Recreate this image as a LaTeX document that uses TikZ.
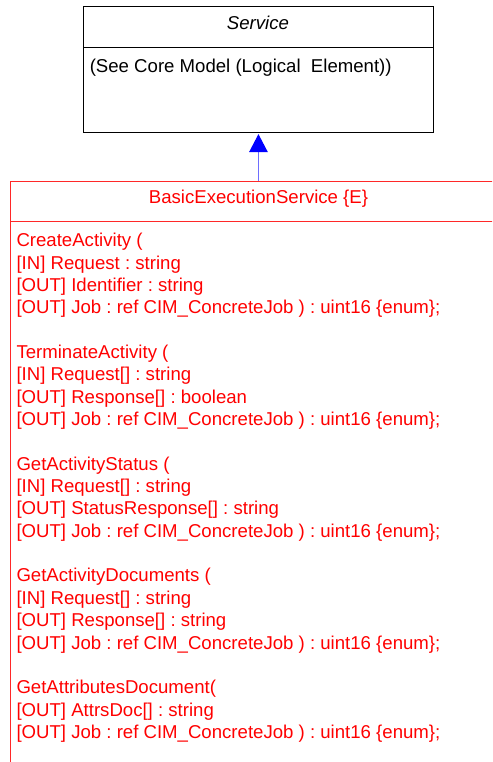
\documentclass[tikz,border=0pt]{standalone}
\usepackage{fontspec}
\setmainfont{Liberation Sans}
\usetikzlibrary{arrows.meta}
\definecolor{lineblue}{RGB}{110,110,255}
\definecolor{boxred}{RGB}{255,40,40}
\frenchspacing
\begin{document}
\frenchspacing
\begin{tikzpicture}[x=1pt,y=-1pt,
  txt/.style={inner sep=0pt, font=\fontsize{18.6}{22}\selectfont\frenchspacing},
  opline/.style={txt, anchor=base west, text=red},
  classbox/.style={draw, line width=0.9pt, inner sep=0pt, anchor=north west},
  gen/.style={line width=1.2pt, draw=lineblue, shorten >=1.5pt,
    -{Triangle[length=18pt,width=18.5pt,color=blue,fill=blue]}}]
\useasboundingbox (0,0) rectangle (492,762);
\clip (0,0) rectangle (492,762);
\fill[white] (0,0) rectangle (492,762);

% Service class
\node[classbox, draw=black, minimum width=349.4pt, minimum height=125.7pt] (svc) at (83.3,6) {};
\draw[black, line width=0.9pt] (svc.west |- 0,47.7) -- (svc.east |- 0,47.7);
\node[txt, anchor=base, font=\fontsize{18.6}{22}\selectfont\itshape] (svctitle) at (258,30) {Service};
\node[txt, anchor=base west] (svcnote) at (89.6,72.3) {(See Core Model (Logical\ \ Element))};

% BasicExecutionService class
\node[classbox, draw=boxred, minimum width=496pt, minimum height=700pt] (bes) at (10,180.7) {};
\draw[boxred, line width=0.9pt] (bes.west |- 0,221.7) -- (bes.east |- 0,221.7);
\node[txt, anchor=base, text=red] (bestitle) at (258.5,204) {BasicExecutionService \{E\}};

% generalization
\draw[gen] (bes.north) -- (svc.south);

% operations
\node[opline] (l0)  at (16.3,246.7) {CreateActivity (};
\node[opline] (l1)  at (16.3,269.05) {[IN] Request : string};
\node[opline] (l2)  at (16.3,291.4) {[OUT] Identifier : string};
\node[opline] (l3)  at (16.3,313.75) {[OUT] Job : ref CIM\_ConcreteJob ) : uint16 \{enum\};};
\node[opline] (l5)  at (16.3,358.45) {TerminateActivity (};
\node[opline] (l6)  at (16.3,380.8) {[IN] Request[] : string};
\node[opline] (l7)  at (16.3,403.15) {[OUT] Response[] : boolean};
\node[opline] (l8)  at (16.3,425.5) {[OUT] Job : ref CIM\_ConcreteJob ) : uint16 \{enum\};};
\node[opline] (l10) at (16.3,470.2) {GetActivityStatus (};
\node[opline] (l11) at (16.3,492.55) {[IN] Request[] : string};
\node[opline] (l12) at (16.3,514.9) {[OUT] StatusResponse[] : string};
\node[opline] (l13) at (16.3,537.25) {[OUT] Job : ref CIM\_ConcreteJob ) : uint16 \{enum\};};
\node[opline] (l15) at (16.3,581.95) {GetActivityDocuments (};
\node[opline] (l16) at (16.3,604.3) {[IN] Request[] : string};
\node[opline] (l17) at (16.3,626.65) {[OUT] Response[] : string};
\node[opline] (l18) at (16.3,649.0) {[OUT] Job : ref CIM\_ConcreteJob ) : uint16 \{enum\};};
\node[opline] (l20) at (16.3,693.7) {GetAttributesDocument(};
\node[opline] (l21) at (16.3,716.05) {[OUT] AttrsDoc[] : string};
\node[opline] (l22) at (16.3,738.4) {[OUT] Job : ref CIM\_ConcreteJob ) : uint16 \{enum\};};
\end{tikzpicture}
\end{document}
